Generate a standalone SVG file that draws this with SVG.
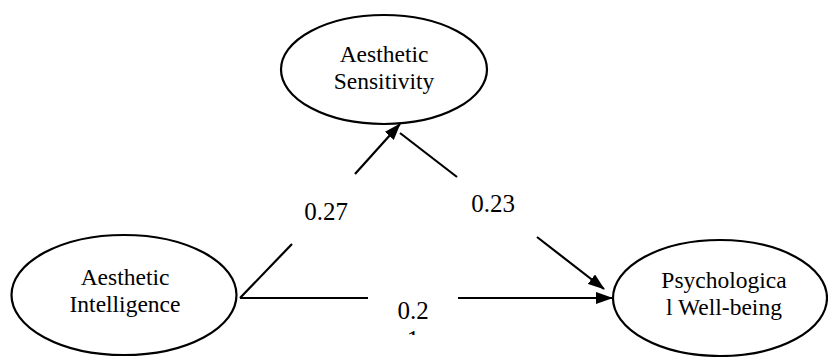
<svg xmlns="http://www.w3.org/2000/svg" width="828" height="357" viewBox="0 0 828 357">
<style>
.node ellipse{fill:#fff;stroke:#000;stroke-width:2.2}
.nt{font-family:"Liberation Serif","Times New Roman",serif;font-size:23.5px;fill:#000;text-anchor:middle}
.lbl{font-family:"Liberation Serif","Times New Roman",serif;font-size:25px;fill:#000;text-anchor:middle}
.conn line{stroke:#000;stroke-width:2.2;fill:none}
</style>
<defs>
<marker id="arr" viewBox="0 0 17 12" refX="16" refY="6" markerWidth="17" markerHeight="12" markerUnits="userSpaceOnUse" orient="auto">
<path d="M0,0 L17,6 L0,12 Z" fill="#000"/>
</marker>
<clipPath id="clip1"><rect x="400" y="330" width="30" height="5"/></clipPath>
</defs>
<rect width="828" height="357" fill="#fff"/>
<g id="connectors" class="conn">
<line x1="240" y1="298" x2="292" y2="244"/>
<line x1="355" y1="174" x2="400" y2="124" marker-end="url(#arr)"/>
<line x1="400" y1="133" x2="457" y2="177"/>
<line x1="537" y1="237" x2="604" y2="289" marker-end="url(#arr)"/>
<line x1="240" y1="298" x2="368" y2="298"/>
<line x1="458" y1="298" x2="612" y2="298" marker-end="url(#arr)"/>
</g>
<g id="labels">
<text class="lbl" x="326" y="220">0.27</text>
<text class="lbl" x="493" y="212">0.23</text>
<text class="lbl" x="413" y="319">0.2</text>
<text class="lbl" x="413" y="348" clip-path="url(#clip1)">1</text>
</g>
<g id="aesthetic-sensitivity" class="node">
<ellipse cx="384" cy="69.5" rx="103" ry="54.5"/>
<text class="nt" x="384" y="62">Aesthetic</text>
<text class="nt" x="384" y="89">Sensitivity</text>
</g>
<g id="aesthetic-intelligence" class="node">
<ellipse cx="124" cy="295" rx="112.5" ry="60"/>
<text class="nt" x="125" y="285">Aesthetic</text>
<text class="nt" x="125" y="312">Intelligence</text>
</g>
<g id="psychological-well-being" class="node">
<ellipse cx="720" cy="298" rx="107" ry="58"/>
<text class="nt" x="724" y="288">Psychologica</text>
<text class="nt" x="724" y="315">l Well-being</text>
</g>
</svg>
